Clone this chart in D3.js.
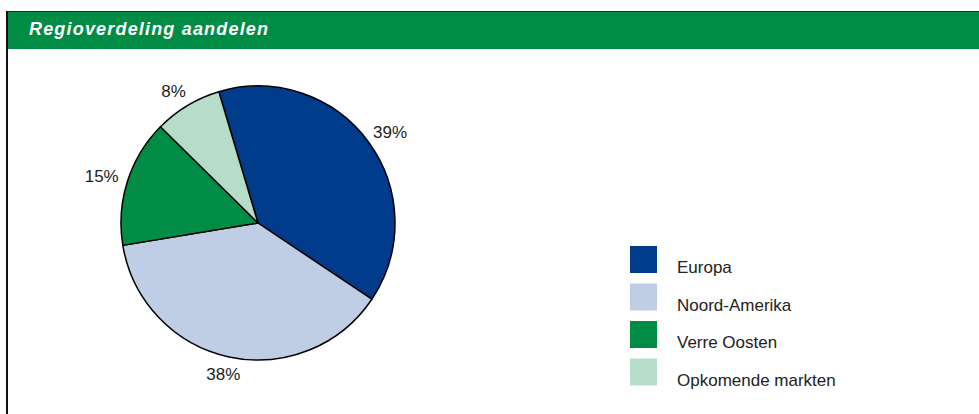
<!DOCTYPE html>
<html>
<head>
<meta charset="utf-8">
<script src="https://cdn.jsdelivr.net/npm/d3@7"></script>
<style>
  html, body { margin: 0; padding: 0; background: #fff; }
  svg { display: block; }
</style>
</head>
<body>
<svg id="chart" width="979" height="414"></svg>
<script>
// Regional distribution of the equity portfolio (percent)
const regions = ["Europa", "Noord-Amerika", "Verre Oosten", "Opkomende markten"];
const shares = [39, 38, 15, 8];
const colors = ["#013b8c", "#bfcee4", "#008c45", "#b6ddc9"];
const title = "Regioverdeling aandelen";

const svg = d3.select("#chart");
const W = 979, H = 414;
const font = "'Liberation Sans', Arial, sans-serif";

// Header band with title
svg.append("rect").attr("x", 7).attr("y", 11).attr("width", W - 7).attr("height", 38)
  .attr("fill", "#008c45");
svg.append("line").attr("x1", 7).attr("x2", W).attr("y1", 11.5).attr("y2", 11.5)
  .attr("stroke", "#0b3a1f").attr("stroke-width", 1);
svg.append("line").attr("x1", 7).attr("x2", 7).attr("y1", 11).attr("y2", H)
  .attr("stroke", "#111").attr("stroke-width", 2);
svg.append("text").attr("x", 29).attr("y", 35)
  .attr("font-family", font).attr("font-size", 18).attr("font-weight", "bold")
  .attr("font-style", "italic").attr("fill", "#fff")
  .attr("textLength", 239).attr("lengthAdjust", "spacing")
  .text(title);

// Pie
const cx = 258, cy = 223, r = 137;
const data = regions.map((name, i) => ({ name, value: shares[i], color: colors[i] }));
const pie = d3.pie().value(d => d.value).sort(null)
  .startAngle(-16.6 * Math.PI / 180)
  .endAngle((360 - 16.6) * Math.PI / 180);
const arcs = pie(data);
const arc = d3.arc().innerRadius(0).outerRadius(r);

const g = svg.append("g").attr("transform", `translate(${cx},${cy})`);
g.selectAll("path.slice").data(arcs).enter().append("path")
  .attr("class", "slice")
  .attr("d", arc)
  .attr("fill", d => d.data.color)
  .attr("stroke", "#000").attr("stroke-width", 1.5).attr("stroke-linejoin", "round");

// Percentage labels just outside the rim
const labelR = r + 10;
g.selectAll("text.pct").data(arcs).enter().append("text")
  .attr("class", "pct")
  .each(function (d) {
    const a = (d.startAngle + d.endAngle) / 2;
    const sx = Math.sin(a), sy = -Math.cos(a);
    const halfW = 17, halfH = 7;
    const x = labelR * sx + halfW * sx;
    const y = labelR * sy + halfH * sy;
    d3.select(this).attr("x", x).attr("y", y + 6);
  })
  .attr("text-anchor", "middle")
  .attr("font-family", font).attr("font-size", 17).attr("fill", "#222")
  .text(d => d.data.value + "%");

// Legend
const legend = svg.append("g").attr("transform", "translate(630,246)");
const rowH = 37.5;
const rows = legend.selectAll("g").data(data).enter().append("g")
  .attr("transform", (d, i) => `translate(0,${i * rowH})`);
rows.append("rect").attr("width", 27).attr("height", 27).attr("fill", d => d.color);
rows.append("text").attr("x", 47).attr("y", 27)
  .attr("font-family", font).attr("font-size", 17).attr("fill", "#222")
  .text(d => d.name);
</script>
</body>
</html>
